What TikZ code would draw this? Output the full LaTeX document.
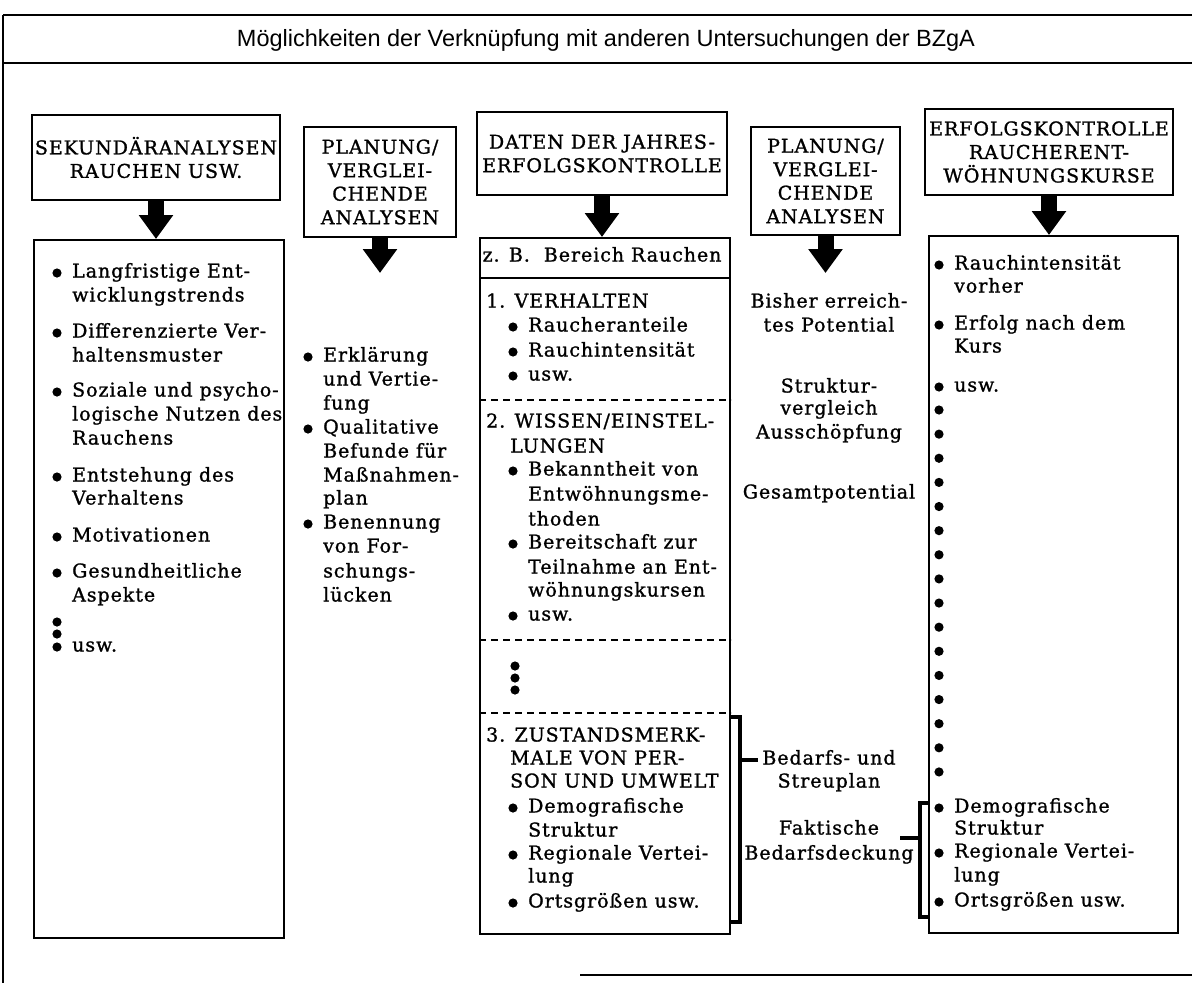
\documentclass[tikz,border=0pt]{standalone}
\usepackage{fontspec}
\setmainfont{DejaVu Serif}[LetterSpace=5, FakeBold=1.2]
\newfontfamily\titlefont{Liberation Sans}
\usepackage{tikz}
\usetikzlibrary{arrows.meta,positioning,calc}
\newcommand{\colfont}{\fontsize{19}{23.5}\selectfont}
\tikzset{
  hbox/.style     ={rectangle, draw, line width=2pt, align=center, inner sep=0pt, font=\colfont},
  cbox/.style     ={rectangle, draw, line width=2pt, anchor=north west, inner sep=0pt},
  txt/.style      ={anchor=west, inner sep=0pt, text height=13pt, text depth=4pt, font=\colfont},
  ctxt/.style     ={txt, anchor=center},
  bigarrow/.style ={line width=16pt, -{Triangle[length=24pt,width=33pt]}},
  brk/.style      ={line width=3.2pt},
  dashline/.style ={line width=1.6pt, dash pattern=on 7pt off 5pt},
  frameline/.style={line width=2pt}
}

\begin{document}
\begin{tikzpicture}[x=1pt, y=-1pt]
\useasboundingbox (0,0) rectangle (1192,983);

% ---- Frame and title ----
\node[font=\titlefont\fontsize{23.5}{26}\selectfont] (title) at (606,40)
  {Möglichkeiten der Verknüpfung mit anderen Untersuchungen der BZgA};
\draw[frameline] (3,15) -- (1192,15);
\draw[frameline] (3,63) -- (1192,63);
\draw[frameline] (3,15) -- (3,983);
\draw[frameline] (580,975) -- (1192,975);

% ---- Sekundaeranalysen ----
\node[hbox, minimum width=248pt, minimum height=85pt] (sek) at (156,157.5) {SEKUNDÄRANALYSEN\\RAUCHEN USW.};
\node[cbox, minimum width=250pt, minimum height=698pt] (sekbody) at (33,239) {};
\draw[bigarrow] (sek.south) -- (sek.south |- sekbody.north);
\foreach \y/\t [count=\i] in {273/Langfristige Ent-, 297/wicklungstrends,
    333/Differenzierte Ver-, 357/haltensmuster,
    392/Soziale und psycho-, 416/logische Nutzen des, 440/Rauchens,
    477/Entstehung des, 500/Verhaltens, 537/Motivationen,
    573/Gesundheitliche, 597/Aspekte, 647/usw.}
  \node[txt] (sa\i) at (72,\y) {\t};
\foreach \y in {273,333,392,477,537,573,622,634,647}
  \fill (57,\y) circle (4.6pt);

% ---- Planung (links) ----
\node[hbox, minimum width=152pt, minimum height=110pt] (plan1) at (380,182) {PLANUNG/\\VERGLEI-\\CHENDE\\ANALYSEN};
\coordinate[below=35pt of plan1.south] (plan1tip);
\draw[bigarrow] (plan1.south) -- (plan1tip);
\foreach \y/\t [count=\i] in {357/Erklärung, 381/und Vertie-, 405/fung,
    429/Qualitative, 453/Befunde für, 477/Maßnahmen-, 500/plan,
    524/Benennung, 548/von For-, 573/schungs-, 597/lücken}
  \node[txt] (pb\i) at (323,\y) {\t};
\foreach \y in {357,429,524}
  \fill (308,\y) circle (4.6pt);

% ---- Jahres-Erfolgskontrolle ----
\node[hbox, minimum width=250pt, minimum height=83pt] (daten) at (602,153.5) {DATEN DER JAHRES-\\ERFOLGSKONTROLLE};
\node[cbox, minimum width=250pt, minimum height=696pt] (datenbody) at (479,237) {};
\draw[bigarrow] (daten.south) -- (daten.south |- datenbody.north);
\node[ctxt] (bereich) at (602,257) {z. B.\ \ Bereich Rauchen};
\draw[frameline] (datenbody.west |- 0,278) -- (datenbody.east |- 0,278);
\draw[dashline] (datenbody.west |- 0,400) -- (datenbody.east |- 0,400);
\draw[dashline] (datenbody.west |- 0,640) -- (datenbody.east |- 0,640);
\draw[dashline] (datenbody.west |- 0,713) -- (datenbody.east |- 0,713);
\foreach \x/\y/\t [count=\i] in {486/303/1. VERHALTEN, 528/327/Raucheranteile,
    528/352/Rauchintensität, 528/376/usw.,
    486/423/{2. WISSEN/EINSTEL-}, 510/448/LUNGEN, 528/471/Bekanntheit von,
    528/496/Entwöhnungsme-, 528/521/thoden, 528/544/Bereitschaft zur,
    528/569/Teilnahme an Ent-, 528/592/wöhnungskursen, 528/616/usw.,
    486/737/3. ZUSTANDSMERK-, 510/760/MALE VON PER-, 510/783/SON UND UMWELT,
    528/808/Demografische, 528/832/Struktur, 528/855/Regionale Vertei-,
    528/878/lung, 528/903/Ortsgrößen usw.}
  \node[txt] (dj\i) at (\x,\y) {\t};
\foreach \y in {327,352,376,471,544,616,808,855,903}
  \fill (513,\y) circle (4.6pt);
\foreach \y in {666,678,690}
  \fill (515,\y) circle (4.6pt);

% ---- Planung (rechts) ----
\node[hbox, minimum width=149pt, minimum height=108pt] (plan2) at (825.5,181) {PLANUNG/\\VERGLEI-\\CHENDE\\ANALYSEN};
\coordinate[below=37pt of plan2.south] (plan2tip);
\draw[bigarrow] (plan2.south) -- (plan2tip);
\foreach \y/\t [count=\i] in {303/Bisher erreich-, 327/tes Potential,
    388/Struktur-, 410/vergleich, 434/Ausschöpfung, 494/Gesamtpotential,
    760/Bedarfs- und, 783/Streuplan, 830/Faktische, 855/Bedarfsdeckung}
  \node[ctxt] (pd\i) at (829,\y) {\t};

% ---- Erfolgskontrolle Kurse ----
\node[hbox, minimum width=248pt, minimum height=86pt] (kurse) at (1049,152) {ERFOLGSKONTROLLE\\RAUCHERENT-\\WÖHNUNGSKURSE};
\node[cbox, minimum width=249pt, minimum height=697pt] (kursebody) at (928,235) {};
\draw[bigarrow] (kurse.south) -- (kurse.south |- kursebody.north);
\foreach \y/\t [count=\i] in {265/Rauchintensität, 288/vorher,
    325/Erfolg nach dem, 348/Kurs, 387/usw.,
    808/Demografische, 830/Struktur, 853/Regionale Vertei-, 877/lung,
    902/Ortsgrößen usw.}
  \node[txt] (ek\i) at (954,\y) {\t};
\foreach \y in {265,325,387,808,853,902}
  \fill (939,\y) circle (4.6pt);
\foreach \i in {0,...,15}
  \fill (939,410+24.13*\i) circle (4.6pt);

% ---- Klammern ----
\draw[brk] (datenbody.east |- 0,717) -- ++(9,0) |- (datenbody.east |- 0,922);
\draw[brk] (740,760) -- ([xshift=-4pt]pd7.west);
\draw[brk] (kursebody.west |- 0,803) -- ++(-8,0) |- (kursebody.west |- 0,917);
\draw[brk] (920,838) -- ++(-20,0);
\end{tikzpicture}
\end{document}
